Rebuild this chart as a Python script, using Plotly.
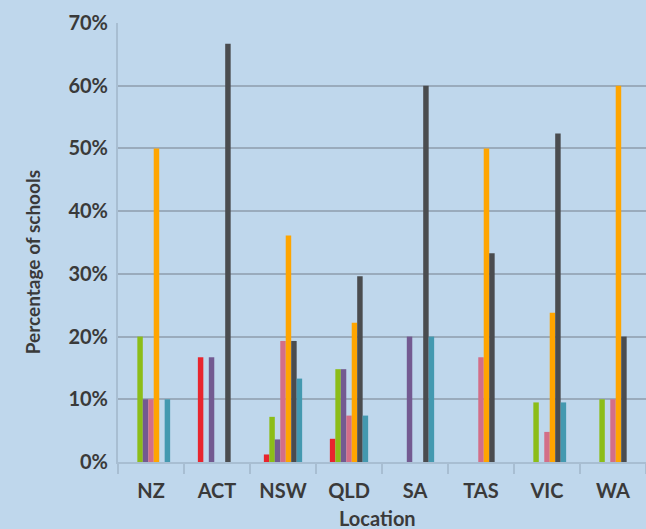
import plotly.graph_objects as go

locations = ["NZ", "ACT", "NSW", "QLD", "SA", "TAS", "VIC", "WA"]

# Seven response categories (no legend in source); values are percentages of schools
series_names = ["Category 1", "Category 2", "Category 3", "Category 4",
                "Category 5", "Category 6", "Category 7"]
cat1 = [0.0, 16.7, 1.2, 3.7, 0.0, 0.0, 0.0, 0.0]
cat2 = [20.0, 0.0, 7.2, 14.8, 0.0, 0.0, 9.5, 10.0]
cat3 = [10.0, 16.7, 3.6, 14.8, 20.0, 0.0, 0.0, 0.0]
cat4 = [10.0, 0.0, 19.3, 7.4, 0.0, 16.7, 4.8, 10.0]
cat5 = [50.0, 0.0, 36.1, 22.2, 0.0, 50.0, 23.8, 60.0]
cat6 = [0.0, 66.7, 19.3, 29.6, 60.0, 33.3, 52.4, 20.0]
cat7 = [10.0, 0.0, 13.3, 7.4, 20.0, 0.0, 9.5, 0.0]

series_values = [cat1, cat2, cat3, cat4, cat5, cat6, cat7]
colors = ["#E8252E", "#8CBD18", "#735A91", "#D36E88", "#FFA500", "#4A4C4F", "#4499B0"]

y_ticks = [0, 10, 20, 30, 40, 50, 60, 70]
y_tick_labels = [f"{v}%" for v in y_ticks]

FONT = "Lato, 'Open Sans', sans-serif"
TXT = "#3A3A3A"
BG = "#BFD7EC"
GRID = "#9AABBC"
AXIS = "#A8BED2"

fig = go.Figure()
for name, vals, col in zip(series_names, series_values, colors):
    fig.add_trace(go.Bar(
        x=locations, y=vals, name=name,
        marker=dict(color=col, line=dict(width=0)),
    ))

fig.update_layout(
    width=646, height=529,
    barmode="group", bargap=0.42, bargroupgap=0,
    paper_bgcolor=BG, plot_bgcolor=BG,
    showlegend=False,
    margin=dict(l=118, r=0, t=23, b=67),
    font=dict(family=FONT, color=TXT),
)

fig.update_xaxes(
    type="category",
    showgrid=False,
    showline=True, linecolor=AXIS, linewidth=2,
    ticks="outside", tickson="boundaries", ticklen=10, tickwidth=2, tickcolor=AXIS,
    tickfont=dict(family=FONT, size=20, color=TXT, weight="bold"),
    ticklabelstandoff=10,
)
fig.update_yaxes(
    range=[0, 70],
    tickvals=y_ticks, ticktext=y_tick_labels,
    showgrid=True, gridcolor=GRID, gridwidth=2,
    zeroline=False,
    showline=True, linecolor=AXIS, linewidth=2,
    ticks="",
    ticklabelstandoff=4,
    tickfont=dict(family=FONT, size=20, color=TXT, weight="bold"),
)

fig.add_annotation(
    text="Percentage of schools", textangle=-90,
    xref="paper", yref="paper", x=-0.163, y=0.455,
    showarrow=False, xanchor="center", yanchor="middle",
    font=dict(family=FONT, size=19, color=TXT, weight="bold"),
)
fig.add_annotation(
    text="Location",
    xref="paper", yref="paper", x=0.492, y=-0.127,
    showarrow=False, xanchor="center", yanchor="middle",
    font=dict(family=FONT, size=20, color=TXT, weight="bold"),
)

fig.write_html(
    "out.html",
    config={"displayModeBar": False},
    post_script="document.body.style.margin='0';document.body.style.overflow='hidden';",
)
